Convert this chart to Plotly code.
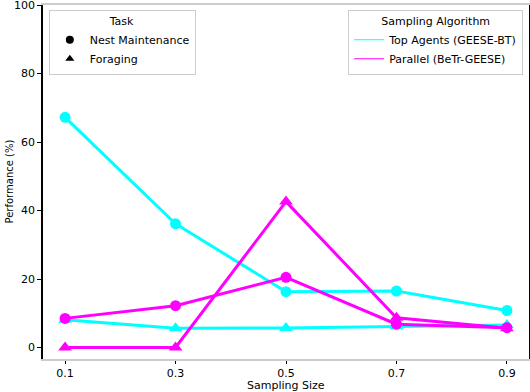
import plotly.graph_objects as go

sizes = [0.1, 0.3, 0.5, 0.7, 0.9]

top_nest = [67.2, 36.1, 16.3, 16.5, 10.8]
top_forage = [8.1, 5.6, 5.7, 6.2, 6.6]
par_nest = [8.5, 12.2, 20.5, 6.8, 5.8]
par_forage = [0.0, 0.0, 42.6, 8.7, 5.6]

CYAN = "#00ffff"
MAGENTA = "#ff00ff"

fig = go.Figure()

series = [
    (top_nest, CYAN, "circle"),
    (top_forage, CYAN, "triangle-up"),
    (par_nest, MAGENTA, "circle"),
    (par_forage, MAGENTA, "triangle-up"),
]
for vals, col, sym in series:
    fig.add_trace(go.Scatter(
        x=sizes, y=vals, mode="lines+markers",
        line=dict(color=col, width=3),
        marker=dict(color=col, symbol=sym, size=11 if sym == "circle" else 12),
        showlegend=False, hoverinfo="skip", cliponaxis=False,
    ))

# legend entries (task -> marker shape)
fig.add_trace(go.Scatter(x=[None], y=[None], mode="markers", name="Nest Maintenance",
                         marker=dict(color="black", symbol="circle", size=8), legend="legend"))
fig.add_trace(go.Scatter(x=[None], y=[None], mode="markers", name="Foraging",
                         marker=dict(color="black", symbol="triangle-up", size=8), legend="legend"))
# legend entries (algorithm -> colour)
fig.add_trace(go.Scatter(x=[None], y=[None], mode="lines", name="Top Agents (GEESE-BT)",
                         line=dict(color=CYAN, width=1), legend="legend2"))
fig.add_trace(go.Scatter(x=[None], y=[None], mode="lines", name="Parallel (BeTr-GEESE)",
                         line=dict(color=MAGENTA, width=1), legend="legend2"))

font = dict(family="DejaVu Sans", size=11, color="black")
legend_style = dict(
    bordercolor="#cccccc", borderwidth=1, bgcolor="rgba(255,255,255,0.8)",
    font=font, tracegroupgap=0, itemwidth=30,
)

fig.update_layout(
    width=530, height=392,
    margin=dict(l=43, r=1, t=5, b=33, autoexpand=False),
    plot_bgcolor="white", paper_bgcolor="white",
    font=font,
    legend=dict(title=dict(text="Task", side="top center", font=font),
                x=0.012, y=0.986, xanchor="left", yanchor="top", **legend_style),
    legend2=dict(title=dict(text="Sampling Algorithm", side="top center", font=font),
                 x=0.988, y=0.986, xanchor="right", yanchor="top", **legend_style),
    annotations=[
        dict(text="Sampling Size", xref="paper", yref="paper", x=0.5, y=0,
             yshift=-18, xanchor="center", yanchor="top", showarrow=False,
             font=dict(family="DejaVu Sans", size=11)),
        dict(text="Performance (%)", xref="paper", yref="paper", x=0, y=0.5,
             xshift=-42, xanchor="left", yanchor="middle", textangle=-90,
             showarrow=False, font=dict(family="DejaVu Sans", size=10)),
    ],
)
fig.update_xaxes(
    range=[0.06, 0.94], tickvals=sizes, ticktext=["0.1", "0.3", "0.5", "0.7", "0.9"],
    showgrid=False, zeroline=False, showline=True, linecolor="#cccccc", linewidth=2,
    mirror=True, ticks="outside", ticklen=3, tickcolor="black",
    tickfont=font, automargin=False, ticklabeloverflow="allow",
)
fig.update_yaxes(
    range=[-3.36, 100.01], tickvals=[0, 20, 40, 60, 80, 100],
    showgrid=False, zeroline=False, showline=True, linecolor="black", linewidth=1.5,
    mirror=True, ticks="outside", ticklen=4, tickcolor="black",
    tickfont=font, automargin=False, ticklabeloverflow="allow",
)

fig.write_html("out.html", config={"displayModeBar": False},
               post_script="document.body.style.margin='0';")
